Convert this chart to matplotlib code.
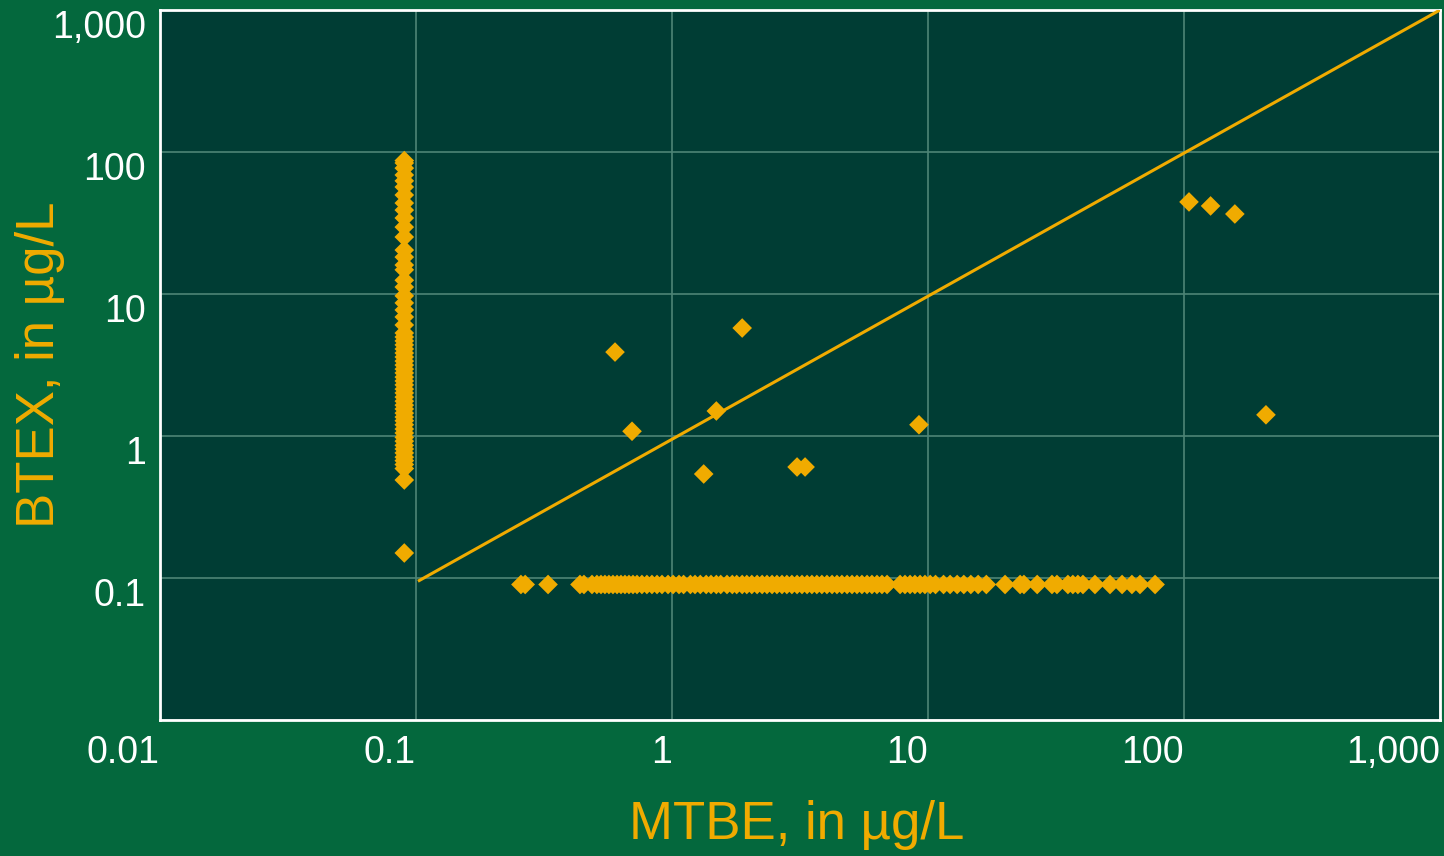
import matplotlib.pyplot as plt
from matplotlib.ticker import FixedLocator

# Colours
FIG_BG = '#04683d'
AX_BG = '#003d34'
GOLD = '#f0ab00'
GRID = '#4d8575'

# Wells with no detected MTBE (plotted at 0.09 on x)
col_x = 0.09
col_btex = [87, 83.7, 77, 68.9, 62.6, 56.7, 49.8, 43.7, 39, 34.3, 29.6, 25.2,
            20.4, 18.2, 16, 14.8, 12.5, 11.2, 9.7, 8.65, 7.72, 6.89, 6.05, 5.31,
            4.98, 4.67, 4.38, 4.10, 3.84, 3.60, 3.37, 3.16, 2.96, 2.78, 2.60,
            2.44, 2.29, 2.14, 2.01, 1.88, 1.76, 1.65, 1.55, 1.45, 1.36, 1.28,
            1.20, 1.12, 1.05, 0.98, 0.92, 0.86, 0.81, 0.76, 0.71, 0.67, 0.63,
            0.59, 0.49, 0.15]

# Wells with no detected BTEX (plotted at 0.09 on y)
row_y = 0.09
row_mtbe = [0.257, 0.267, 0.328, 0.437, 0.453, 0.487, 0.509, 0.528, 0.547, 0.567,
            0.588, 0.610, 0.632, 0.655, 0.679, 0.704, 0.730, 0.763, 0.798, 0.835,
            0.874, 0.914, 0.965, 1.01, 1.065, 1.11, 1.18, 1.23, 1.29, 1.36, 1.42,
            1.49, 1.55, 1.64, 1.72, 1.79, 1.88, 1.96, 2.05, 2.15, 2.25, 2.35, 2.46,
            2.57, 2.69, 2.81, 2.94, 3.08, 3.22, 3.37, 3.52, 3.68, 3.85, 4.03, 4.22,
            4.41, 4.61, 4.83, 5.05, 5.28, 5.52, 5.78, 6.04, 6.32, 6.61, 6.92, 7.78,
            8.13, 8.51, 8.89, 9.31, 9.73, 10.2, 10.7, 11.5, 12.2, 13.0, 13.8, 14.7,
            15.7, 16.9, 20.0, 22.9, 23.7, 26.7, 30.5, 31.9, 35.2, 36.8, 38.5, 40.3,
            44.9, 51.4, 57.3, 62.6, 67.3, 77.1]

# Wells with both detected
both_mtbe = [0.599, 0.698, 1.88, 1.49, 1.33, 3.08, 3.31, 9.22, 104.6, 127, 158, 209]
both_btex = [3.9, 1.08, 5.76, 1.50, 0.54, 0.605, 0.605, 1.20, 44.5, 41.7, 36.6, 1.41]

# 1:1 line
line_x = [0.103, 1000]
line_y = [0.096, 1000]

ticks = [0.01, 0.1, 1, 10, 100, 1000]
tick_labels = ['0.01', '0.1', '1', '10', '100', '1,000']

plt.rcParams['font.family'] = ['Liberation Sans', 'DejaVu Sans']

fig = plt.figure(figsize=(14.44, 8.56), dpi=100, facecolor=FIG_BG)
ax = fig.add_axes([160 / 1444, 136 / 856, 1280 / 1444, 710 / 856])
ax.set_facecolor(AX_BG)
ax.set_xscale('log')
ax.set_yscale('log')
ax.set_xlim(0.01, 1000)
ax.set_ylim(0.01, 1000)

ax.plot(line_x, line_y, color=GOLD, lw=2.2, zorder=3)
mk = dict(marker='D', s=100, color=GOLD, edgecolors='none', zorder=4)
ax.scatter([col_x] * len(col_btex), col_btex, **mk)
ax.scatter(row_mtbe, [row_y] * len(row_mtbe), **mk)
ax.scatter(both_mtbe, both_btex, **mk)

ax.xaxis.set_major_locator(FixedLocator(ticks))
ax.yaxis.set_major_locator(FixedLocator(ticks))
ax.xaxis.set_minor_locator(FixedLocator([]))
ax.yaxis.set_minor_locator(FixedLocator([]))
ax.set_xticklabels(tick_labels, ha='right')
ax.set_yticklabels([''] + tick_labels[1:], va='top')
ax.tick_params(length=0, colors='white', labelsize=27)
ax.tick_params(axis='x', pad=11)
ax.tick_params(axis='y', pad=10)
ax.grid(True, color=GRID, lw=1.2)
ax.set_axisbelow(True)

for s in ax.spines.values():
    s.set_color('white')
    s.set_linewidth(2)

fig.text(797 / 1444, 1 - 825 / 856, 'MTBE, in µg/L', color=GOLD, fontsize=38,
         ha='center', va='center')
fig.text(40 / 1444, 1 - 365 / 856, 'BTEX, in µg/L', color=GOLD, fontsize=38,
         ha='center', va='center', rotation=90)

fig.savefig('out.png', dpi=100, facecolor=FIG_BG)
